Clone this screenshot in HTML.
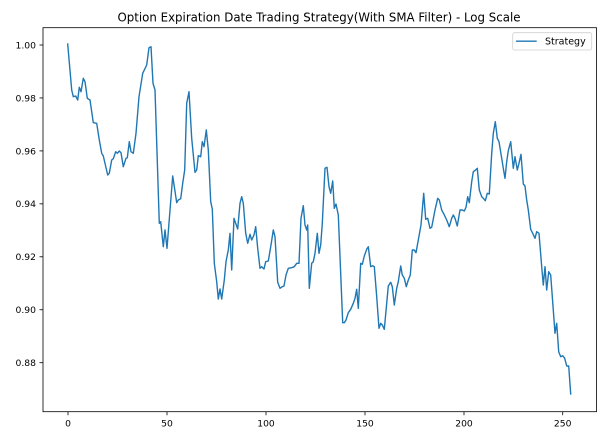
<!DOCTYPE html>
<html>
<head>
<meta charset="utf-8">
<style>
html,body{margin:0;padding:0;background:#fff;}
svg{display:block;}
text{font-family:"DejaVu Sans","Liberation Sans",sans-serif;fill:#000;}
</style>
</head>
<body>
<svg width="607" height="437" viewBox="0 0 607 437" xmlns="http://www.w3.org/2000/svg">
<rect x="0" y="0" width="607" height="437" fill="#fff"/>
<text x="117.5" y="21.7" font-size="12" textLength="403" lengthAdjust="spacingAndGlyphs">Option Expiration Date Trading Strategy(With SMA Filter) - Log Scale</text>

<polyline fill="none" stroke="#1f77b4" stroke-width="1.4" stroke-linejoin="round" stroke-linecap="square" points="
67.7,44 71.7,90 73.3,96.7 75.7,96 77.7,100 79.3,87.3 81,91.7 83.3,78.3 85,81.7 87.3,98.3 90,100 93.3,122.7 96.7,123.3 99.3,140 101.7,153.3 103.3,156 107.7,175 109.3,173.3 111.7,160 113.3,158.7 115.7,151.7 117.3,153.3 119.3,151 121,152.7 123.3,166.7 126,158.3 127.3,157.7 129.3,141.7 131,151.7 133.3,153.3 136,133.3 139,96.7 142.7,73.3 146.7,65 149,47.7 151,46.7 153,83.3 155,90 159.3,223.3 160.7,221.7 163.3,246.7 165,230 167,248.3 172.7,176 176.7,202.7 178.3,200 180.7,198.7 182.7,183.3 184.7,170 186.7,103.3 189,91.7 191.7,138.3 195,172.3 196.7,170 198.3,155.7 200.7,156.7 202.3,141.7 204,146.7 206.3,130 208.3,150 210.7,201.7 212.3,209 214.3,263.3 216.7,281.7 218.3,299 220,289 221.7,299 224.3,280 226,261.7 228.3,250 230,233.3 231.7,270 234,218.3 235.7,223.3 237.7,229 240,203.3 241.7,196.7 243.3,203.3 245.7,233.3 247.7,243.3 250,234.3 251.7,240 254,235 255.7,226.7 257.7,248.3 260,268.3 261.7,266.7 264,269 265.7,261.7 268.3,261 271,245 273.3,230 275,236.7 277.7,282.3 280,288.3 282.3,286.7 284,286 286,275 288.3,268.3 291.7,267.7 294.3,266.7 296.7,263.3 299,263.3 301,218.3 303.3,205.7 305,225 306.7,230 307.7,225 309.3,288.3 311.7,263.3 313.3,261.7 315,253.3 317.3,233.3 319,253.3 320.7,245 322.3,223.3 325,168.3 327,167.3 329,186.7 330.7,193.3 332.7,181 334.3,208.3 336,204 338.3,215 342.7,322.7 344.3,322.7 346,320 348.3,312.7 350.7,309.3 353.3,303.3 355,298.3 356.7,289.3 358.3,308.3 360.7,263.3 362.3,264.3 364.3,256 366.7,249.3 368.3,246.7 370.7,266.7 372.7,265.7 374.3,266.7 376.7,296.7 379,328.3 380.7,323.3 382.3,325 384.3,329.3 388.3,286 390.7,282.3 392.3,286.7 394.3,305 396.7,288.3 398.3,281.7 400.7,266 402.3,275 404.3,278.3 406.3,286.7 408.3,280 410.3,275 412.3,250 414.3,250 416,252.7 418.3,240 421,225 423.7,193.3 425.7,219.3 427.7,218.3 430,228.3 431.7,227.3 435,210 437.7,198.3 439.3,200 441.7,210 444,214.3 446.7,220 449.3,226.7 451.7,218.3 453.3,215 455,218.3 457.3,226 460,210 462.3,210 464.3,211 466,207.3 467.7,196.7 469.3,202.7 471.7,181.7 473.3,171.7 475.7,170 477.3,168.3 479.3,190 481.7,196.7 483.3,198.3 485.3,200.7 487.3,193.3 489.3,194 491.7,153.3 493.3,133.3 495.3,121.7 497.3,138.3 499,141.7 501.7,158.3 503.3,168.3 505,178.3 506.7,161.7 508.3,150.7 510.7,141.7 513.3,168.3 515,156.7 517.3,170 519,163.3 521,154.3 523.3,184 525,186 526.7,200 528.3,210 530.7,229.3 532.7,233.3 535,238.3 536.7,231.7 539,233.3 541.7,266.7 543.3,285 545,266.7 546.7,290 548.7,271.7 550.7,275 555,333.3 556.7,323.3 558.7,351.7 560.7,356.7 562.7,355.7 564.7,358.3 566.7,366 568.7,366 570.7,394"/>

<!-- axes frame -->
<rect x="43" y="27.7" width="553.5" height="384" fill="none" stroke="#000" stroke-width="0.8"/>

<!-- y ticks -->
<g stroke="#000" stroke-width="0.8">
<line x1="39.5" y1="45" x2="43" y2="45"/>
<line x1="39.5" y1="97.95" x2="43" y2="97.95"/>
<line x1="39.5" y1="150.9" x2="43" y2="150.9"/>
<line x1="39.5" y1="203.85" x2="43" y2="203.85"/>
<line x1="39.5" y1="256.8" x2="43" y2="256.8"/>
<line x1="39.5" y1="309.75" x2="43" y2="309.75"/>
<line x1="39.5" y1="362.7" x2="43" y2="362.7"/>
</g>
<g font-size="9.2" text-anchor="end">
<text x="36" y="48.4">1.00</text>
<text x="36" y="101.3">0.98</text>
<text x="36" y="154.3">0.96</text>
<text x="36" y="207.2">0.94</text>
<text x="36" y="260.2">0.92</text>
<text x="36" y="313.1">0.90</text>
<text x="36" y="366.1">0.88</text>
</g>

<!-- x ticks -->
<g stroke="#000" stroke-width="0.8">
<line x1="68" y1="411.7" x2="68" y2="415.2"/>
<line x1="167" y1="411.7" x2="167" y2="415.2"/>
<line x1="266" y1="411.7" x2="266" y2="415.2"/>
<line x1="365" y1="411.7" x2="365" y2="415.2"/>
<line x1="464" y1="411.7" x2="464" y2="415.2"/>
<line x1="562.7" y1="411.7" x2="562.7" y2="415.2"/>
</g>
<g font-size="9.2" text-anchor="middle">
<text x="68" y="426.6">0</text>
<text x="167" y="426.6">50</text>
<text x="266" y="426.6">100</text>
<text x="365" y="426.6">150</text>
<text x="464" y="426.6">200</text>
<text x="562.7" y="426.6">250</text>
</g>

<!-- legend -->
<rect x="512.7" y="32.7" width="79" height="17.3" rx="2" ry="2" fill="#fff" fill-opacity="0.8" stroke="#d0d0d0" stroke-width="0.8"/>
<line x1="516" y1="41.2" x2="536.7" y2="41.2" stroke="#1f77b4" stroke-width="1.4"/>
<text x="545" y="44.6" font-size="9.6" textLength="40.7" lengthAdjust="spacingAndGlyphs">Strategy</text>
</svg>
</body>
</html>
